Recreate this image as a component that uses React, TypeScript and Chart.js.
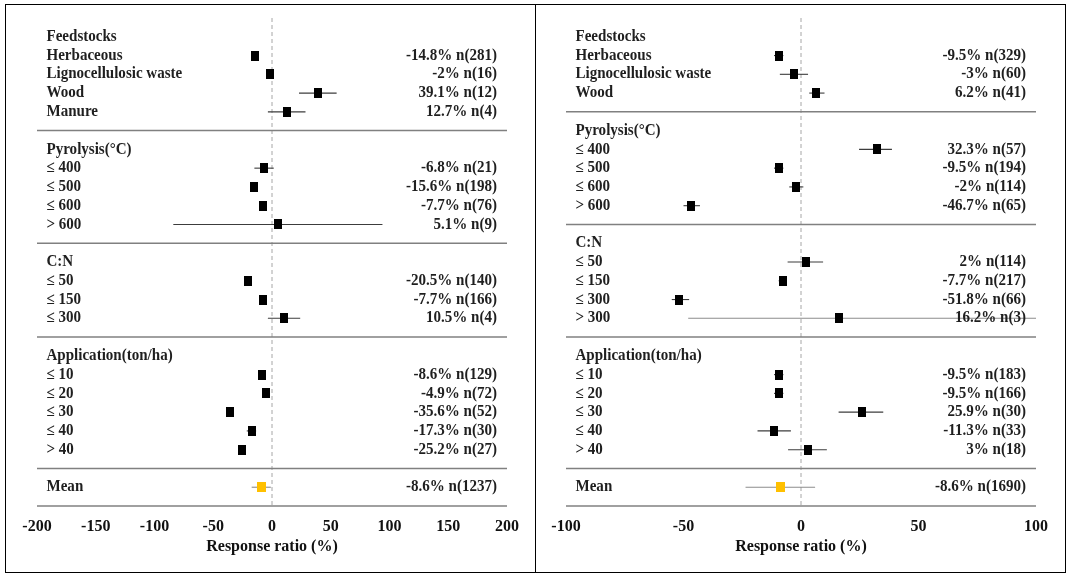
import React, { useEffect, useRef } from "react";
import { Chart, registerables } from "chart.js";

Chart.register(...registerables);
Chart.defaults.font.family = "'Liberation Serif', 'Times New Roman', serif";

// ---------- Left panel data ----------
const leftLabels = [
  "Feedstocks", "Herbaceous", "Lignocellulosic waste", "Wood", "Manure", "",
  "Pyrolysis(°C)", "≤ 400", "≤ 500", "≤ 600", "> 600", "",
  "C:N", "≤ 50", "≤ 150", "≤ 300", "",
  "Application(ton/ha)", "≤ 10", "≤ 20", "≤ 30", "≤ 40", "> 40", "",
  "Mean",
];
const leftValues = [
  null, -14.8, -2, 39.1, 12.7, null,
  null, -6.8, -15.6, -7.7, 5.1, null,
  null, -20.5, -7.7, 10.5, null,
  null, -8.6, -4.9, -35.6, -17.3, -25.2, null,
  -8.6,
];
const leftLower = [
  null, -17, -4.5, 23, -3.5, null,
  null, -15, -18, -10, -84, null,
  null, -23, -10, -3.5, null,
  null, -11, -7, -38, -21.5, -28, null,
  -17.3,
];
const leftUpper = [
  null, -12.5, 0.5, 55, 28.5, null,
  null, 1.5, -13, -5.5, 94, null,
  null, -18, -5.5, 24, null,
  null, -6, -2.5, -33, -13.5, -22.5, null,
  -1,
];
const leftCounts = [
  null, 281, 16, 12, 4, null,
  null, 21, 198, 76, 9, null,
  null, 140, 166, 4, null,
  null, 129, 72, 52, 30, 27, null,
  1237,
];
const leftSeparators = [5, 11, 16, 23, 25];
const leftRange = [-200, 200];

// ---------- Right panel data ----------
const rightLabels = [
  "Feedstocks", "Herbaceous", "Lignocellulosic waste", "Wood", "",
  "Pyrolysis(°C)", "≤ 400", "≤ 500", "≤ 600", "> 600", "",
  "C:N", "≤ 50", "≤ 150", "≤ 300", "> 300", "",
  "Application(ton/ha)", "≤ 10", "≤ 20", "≤ 30", "≤ 40", "> 40", "",
  "Mean",
];
const rightValues = [
  null, -9.5, -3, 6.2, null,
  null, 32.3, -9.5, -2, -46.7, null,
  null, 2, -7.7, -51.8, 16.2, null,
  null, -9.5, -9.5, 25.9, -11.3, 3, null,
  -8.6,
];
const rightLower = [
  null, -11.5, -9, 3.5, null,
  null, 24.7, -11.5, -5, -50, null,
  null, -5.7, -9.5, -55, -48, null,
  null, -11.5, -11.5, 16, -18.5, -5.5, null,
  -23.6,
];
const rightUpper = [
  null, -7.5, 3, 10, null,
  null, 38.7, -7.5, 1, -43, null,
  null, 9.4, -6, -47.6, 100, null,
  null, -7.5, -7.5, 35, -4.3, 11, null,
  6,
];
const rightCounts = [
  null, 329, 60, 41, null,
  null, 57, 194, 114, 65, null,
  null, 114, 217, 66, 3, null,
  null, 183, 166, 30, 33, 18, null,
  1690,
];
const rightSeparators = [4, 10, 16, 23, 25];
const rightRange = [-100, 100];

const tickStep = 50;
const axisTitle = "Response ratio (%)";

type PanelCfg = {
  labels: string[];
  values: (number | null)[];
  lower: (number | null)[];
  upper: (number | null)[];
  counts: (number | null)[];
  separators: number[];
  range: number[];
  lightRows: number[];
};

function makeMarker(w: number, h: number, color: string) {
  const c = document.createElement("canvas");
  c.width = w;
  c.height = h;
  const g = c.getContext("2d")!;
  g.fillStyle = color;
  g.fillRect(0, 0, w, h);
  return c;
}

const TEXT_FONT = "bold 16px 'Liberation Serif', 'Times New Roman', serif";
const TEXT_SQUEEZE = 0.94;

function ForestPanel({ cfg, left, top, width, height, pad }: { cfg: PanelCfg; left: number; top: number; width: number; height: number; pad: any }) {
  const ref = useRef<HTMLCanvasElement>(null);
  useEffect(() => {
    const canvas = ref.current!;
    const black = makeMarker(8, 10, "#000000");
    const yellow = makeMarker(9, 10, "#FFC000");
    const meanRow = cfg.labels.indexOf("Mean");
    const pts: any[] = [];
    const meanPts: any[] = [];
    cfg.values.forEach((v, i) => {
      if (v == null) return;
      (i === meanRow ? meanPts : pts).push({ x: v, y: i });
    });

    const drawText = (ctx: CanvasRenderingContext2D, s: string, x: number, y: number, align: CanvasTextAlign) => {
      ctx.save();
      ctx.translate(x, y);
      ctx.scale(TEXT_SQUEEZE, 1);
      ctx.textAlign = align;
      ctx.fillText(s, 0, 0);
      ctx.restore();
    };

    const overlay = {
      id: "forestOverlay",
      beforeDatasetsDraw(chart: any) {
        const { ctx, chartArea } = chart;
        const xs = chart.scales.x;
        const ys = chart.scales.y;
        ctx.save();
        // zero reference line
        const x0 = xs.getPixelForValue(0);
        ctx.strokeStyle = "#a6a6a6";
        ctx.lineWidth = 1;
        ctx.setLineDash([4, 3]);
        ctx.beginPath();
        ctx.moveTo(x0, chartArea.top);
        ctx.lineTo(x0, ys.getPixelForValue(25));
        ctx.stroke();
        ctx.setLineDash([]);
        // separators
        ctx.strokeStyle = "#808080";
        ctx.lineWidth = 1.5;
        cfg.separators.forEach((r) => {
          const y = ys.getPixelForValue(r);
          ctx.beginPath();
          ctx.moveTo(chartArea.left, y);
          ctx.lineTo(chartArea.right, y);
          ctx.stroke();
        });
        // confidence intervals
        cfg.lower.forEach((lo, i) => {
          const hi = cfg.upper[i];
          if (lo == null || hi == null) return;
          const y = ys.getPixelForValue(i);
          ctx.strokeStyle = cfg.lightRows.includes(i) ? "#8c8c8c" : "#3c3c3c";
          ctx.lineWidth = 1.1;
          ctx.beginPath();
          ctx.moveTo(Math.max(xs.getPixelForValue(lo), chartArea.left), y);
          ctx.lineTo(Math.min(xs.getPixelForValue(hi), chartArea.right), y);
          ctx.stroke();
        });
        ctx.restore();
      },
      afterDatasetsDraw(chart: any) {
        const { ctx, chartArea } = chart;
        const ys = chart.scales.y;
        ctx.save();
        ctx.font = TEXT_FONT;
        ctx.fillStyle = "#1f1f1f";
        ctx.textBaseline = "middle";
        cfg.labels.forEach((lab, i) => {
          if (!lab) return;
          const y = ys.getPixelForValue(i);
          drawText(ctx, lab, chartArea.left + 9.5, y, "left");
          const v = cfg.values[i];
          const n = cfg.counts[i];
          if (v != null && n != null) {
            drawText(ctx, `${v}% n(${n})`, chartArea.right - 10, y, "right");
          }
        });
        ctx.restore();
      },
    };

    const chart = new Chart(canvas, {
      type: "scatter",
      data: {
        datasets: [
          { label: "Effect", data: pts, pointStyle: black as any, pointRadius: 5, pointHoverRadius: 5 },
          { label: "Mean", data: meanPts, pointStyle: yellow as any, pointRadius: 5, pointHoverRadius: 5 },
        ],
      },
      options: {
        responsive: false,
        animation: false,
        events: [],
        layout: { padding: pad },
        plugins: { legend: { display: false }, tooltip: { enabled: false } },
        scales: {
          x: {
            type: "linear",
            min: cfg.range[0],
            max: cfg.range[1],
            ticks: { stepSize: tickStep, font: { size: 16, weight: "bold" }, color: "#111", padding: 3, maxRotation: 0, autoSkip: false },
            grid: { display: false },
            border: { display: false },
            title: { display: true, text: axisTitle, font: { size: 16, weight: "bold" }, color: "#111", padding: { top: 0, bottom: 0 } },
            afterFit: (s: any) => {
              s.height = 50;
            },
          },
          y: { type: "linear", min: -1, max: 25, reverse: true, display: false },
        },
      } as any,
      plugins: [overlay],
    });
    return () => chart.destroy();
  }, []);
  return (
    <canvas
      ref={ref}
      width={width}
      height={height}
      style={{ position: "absolute", left, top, width, height }}
    />
  );
}

export default function App() {
  const leftCfg: PanelCfg = {
    labels: leftLabels, values: leftValues, lower: leftLower, upper: leftUpper,
    counts: leftCounts, separators: leftSeparators, range: leftRange, lightRows: [24],
  };
  const rightCfg: PanelCfg = {
    labels: rightLabels, values: rightValues, lower: rightLower, upper: rightUpper,
    counts: rightCounts, separators: rightSeparators, range: rightRange, lightRows: [15, 24],
  };
  return (
    <div style={{ position: "absolute", left: 0, top: 0, width: 1070, height: 577, background: "#fff", overflow: "hidden" }}>
      <div style={{ position: "absolute", left: 5, top: 4, width: 531, height: 569, border: "1.5px solid #000", boxSizing: "border-box" }} />
      <div style={{ position: "absolute", left: 534.5, top: 4, width: 531, height: 569, border: "1.5px solid #000", boxSizing: "border-box" }} />
      <ForestPanel cfg={leftCfg} left={6} top={5} width={528} height={566} pad={{ left: 31, right: 27, top: 13, bottom: 15 }} />
      <ForestPanel cfg={rightCfg} left={536} top={5} width={527} height={566} pad={{ left: 30, right: 27, top: 13, bottom: 15 }} />
    </div>
  );
}
